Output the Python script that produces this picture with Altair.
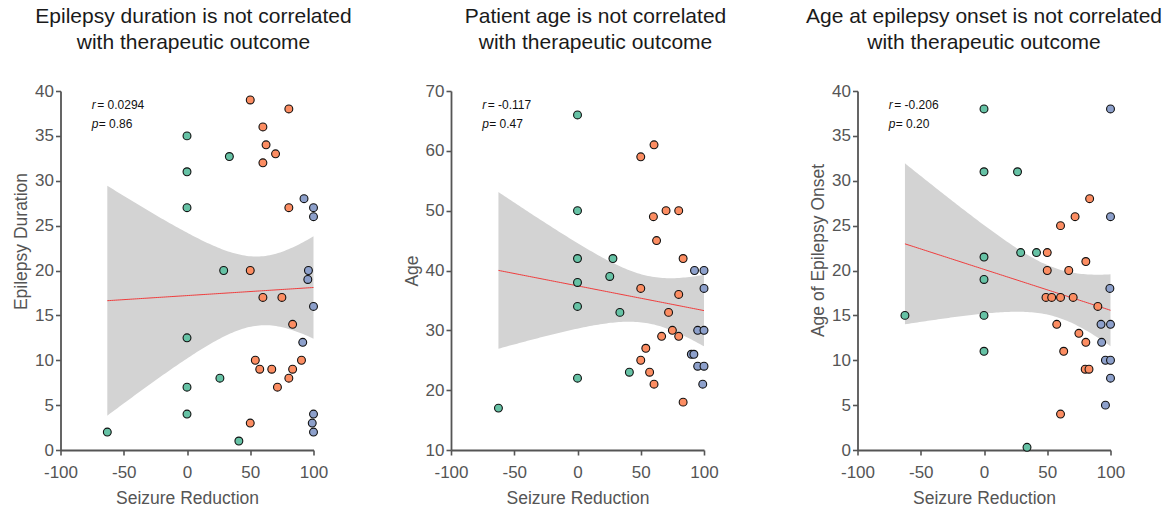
import altair as alt
import pandas as pd
import numpy as np

FONT = "Liberation Sans"
COLORS = ["#66c2a5", "#fc8d62", "#8da0cb"]

# ---------------- Panel 1: Epilepsy duration ----------------
p1_green_x = [-63, 0, 0, 0, 0, 0, 0, 33.5, 29, 26, 41]
p1_green_y = [2, 35, 31, 27, 12.5, 7, 4, 32.7, 20, 8, 1]
p1_orange_x = [50, 80.5, 60, 62.5, 70, 60, 80.5, 50, 60, 75, 83.5, 54, 57.5, 67, 83.5, 90.5, 80.5, 71.5, 50]
p1_orange_y = [39, 38, 36, 34, 33, 32, 27, 20, 17, 17, 14, 10, 9, 9, 9, 10, 8, 7, 3]
p1_blue_x = [92.5, 100, 100, 96, 95.5, 100, 91.5, 100, 99, 100]
p1_blue_y = [28, 27, 26, 20, 19, 16, 12, 4, 3, 2]

# ---------------- Panel 2: Age ----------------
p2_green_x = [-62.5, 0, 0, 0, 0, 0, 0, 28, 25.5, 33.5, 41]
p2_green_y = [17, 66, 50, 42, 38, 34, 22, 42, 39, 33, 23]
p2_orange_x = [60.5, 50, 70, 80, 60, 62.5, 83.5, 50, 80, 72, 75, 66.5, 80, 54, 50, 57, 60.5, 83.5]
p2_orange_y = [61, 59, 50, 50, 49, 45, 42, 37, 36, 33, 30, 29, 29, 27, 25, 23, 21, 18]
p2_blue_x = [92.5, 100, 100, 95, 100, 90, 92, 95, 100, 99]
p2_blue_y = [40, 40, 37, 30, 30, 26, 26, 24, 24, 21]

# ---------------- Panel 3: Age at onset ----------------
p3_green_x = [-62.5, 0, 0, 0, 0, 0, 0, 26.5, 29, 41.5, 34]
p3_green_y = [15, 38, 31, 21.5, 19, 15, 11, 31, 22, 22, 0.3]
p3_orange_x = [83.5, 72, 60.5, 50, 80.5, 50, 67, 49, 53.5, 60.5, 70.5, 90, 57.5, 75, 80.5, 63, 80, 83, 60.5]
p3_orange_y = [28, 26, 25, 22, 21, 20, 20, 17, 17, 17, 17, 16, 14, 13, 12, 11, 9, 9, 4]
p3_blue_x = [100, 100, 99.5, 92.5, 100, 93, 96, 100, 100, 96]
p3_blue_y = [38, 26, 18, 14, 14, 12, 10, 10, 8, 5]

titles = [
    ["Epilepsy duration is not correlated", "with therapeutic outcome"],
    ["Patient age is not correlated", "with therapeutic outcome"],
    ["Age at epilepsy onset is not correlated", "with therapeutic outcome"],
]
y_titles = ["Epilepsy Duration", "Age", "Age of Epilepsy Onset"]
y_domains = [[0, 40], [10, 70], [0, 40]]
y_ticks = [list(range(0, 41, 5)), list(range(10, 71, 10)), list(range(0, 41, 5))]
r_texts = ["= 0.0294", "= -0.117", "= -0.206"]
p_texts = ["= 0.86", "= 0.47", "= 0.20"]
panel_w = [253, 269, 253]   # panel 2 carries extra room so the gap to panel 3 is wider
plot_w = 253
plot_h = 359
title_dx = [6.5, 10, 0]
ytitle_y = [150, 179.5, 159]
T975 = {38: 2.024, 37: 2.026}


def make_df(gx, gy, ox, oy, bx, by):
    return pd.DataFrame({
        "x": gx + ox + bx,
        "y": gy + oy + by,
        "g": ["a"] * len(gx) + ["b"] * len(ox) + ["c"] * len(bx),
    })


def fit_band(df):
    x = df["x"].to_numpy(float)
    y = df["y"].to_numpy(float)
    n = len(x)
    b, a = np.polyfit(x, y, 1)
    res = y - (a + b * x)
    s = np.sqrt(np.sum(res ** 2) / (n - 2))
    xm = x.mean()
    sxx = np.sum((x - xm) ** 2)
    xs = np.linspace(x.min(), x.max(), 100)
    fit = a + b * xs
    se = s * np.sqrt(1.0 / n + (xs - xm) ** 2 / sxx)
    t = T975.get(n - 2, 2.02)
    return pd.DataFrame({"x": xs, "fit": fit, "lo": fit - t * se, "hi": fit + t * se})


HYPHEN = "datum.value < 0 ? '-' + format(abs(datum.value), 'd') : datum.label"


def panel(i, df):
    band_df = fit_band(df)
    xs = alt.Scale(domain=[-100, 100], nice=False, range=[0, plot_w])
    ys = alt.Scale(domain=y_domains[i], nice=False)
    xax = alt.Axis(values=[-100, -50, 0, 50, 100], title="Seizure Reduction", labelExpr=HYPHEN,
                   labelFlush=False, labelPadding=9.5, titlePadding=9)
    yax = alt.Axis(values=y_ticks[i], title=y_titles[i], labelFlush=False, titleY=ytitle_y[i],
                   labelPadding=2, titlePadding=4)
    band = alt.Chart(band_df).mark_area(color="#d3d3d3", opacity=1).encode(
        x=alt.X("x:Q", scale=xs, axis=xax),
        y=alt.Y("lo:Q", scale=ys, axis=yax),
        y2="hi:Q",
    )
    line = alt.Chart(band_df).mark_line(color="#f03c3c", strokeWidth=1).encode(
        x=alt.X("x:Q", scale=xs), y=alt.Y("fit:Q", scale=ys)
    )
    pts = alt.Chart(df).mark_circle(size=62, stroke="#111111", strokeWidth=1.1, opacity=1).encode(
        x=alt.X("x:Q", scale=xs),
        y=alt.Y("y:Q", scale=ys),
        color=alt.Color("g:N", scale=alt.Scale(domain=["a", "b", "c"], range=COLORS), legend=None),
    )
    lo, hi = y_domains[i]
    span = hi - lo
    y1 = hi - span * 0.0395
    y2 = hi - span * 0.091
    xa = -75.3
    ann = pd.DataFrame({"x": [xa, xa], "y": [y1, y2], "sym": ["r", "p"], "txt": [r_texts[i], p_texts[i]]})
    sym = alt.Chart(ann).mark_text(font=FONT, fontSize=12, fontStyle="italic", align="left",
                                   baseline="middle", color="#111111").encode(
        x=alt.X("x:Q", scale=xs), y=alt.Y("y:Q", scale=ys), text="sym:N")
    rest_r = alt.Chart(ann.iloc[[0]]).mark_text(font=FONT, fontSize=12, align="left", dx=5.5,
                                               baseline="middle", color="#111111").encode(
        x=alt.X("x:Q", scale=xs), y=alt.Y("y:Q", scale=ys), text="txt:N")
    rest_p = alt.Chart(ann.iloc[[1]]).mark_text(font=FONT, fontSize=12, align="left", dx=7,
                                               baseline="middle", color="#111111").encode(
        x=alt.X("x:Q", scale=xs), y=alt.Y("y:Q", scale=ys), text="txt:N")
    return alt.layer(band, line, pts, sym, rest_r, rest_p).properties(
        width=panel_w[i], height=plot_h,
        title=alt.TitleParams(text=titles[i], fontSize=21, font=FONT, fontWeight="normal",
                              color="#1a1a1a", anchor="middle", frame="group", dx=title_dx[i],
                              offset=29, lineHeight=26.5),
    )


d1 = make_df(p1_green_x, p1_green_y, p1_orange_x, p1_orange_y, p1_blue_x, p1_blue_y)
d2 = make_df(p2_green_x, p2_green_y, p2_orange_x, p2_orange_y, p2_blue_x, p2_blue_y)
d3 = make_df(p3_green_x, p3_green_y, p3_orange_x, p3_orange_y, p3_blue_x, p3_blue_y)

chart = alt.hconcat(panel(0, d1), panel(1, d2), panel(2, d3), spacing=137.5, bounds="flush").properties(
    padding={"left": 12.5, "top": 5, "right": 5, "bottom": 5}
).configure(
    background="white"
).configure_view(stroke=None).configure_axis(
    grid=False,
    labelFont=FONT, titleFont=FONT,
    labelFontSize=17, titleFontSize=17.5, titleFontWeight="normal",
    labelColor="#555555", titleColor="#555555",
    domainColor="#555555", tickColor="#555555",
    domainWidth=1.8, tickWidth=1.6, tickSize=5,
)

chart.save("out.html", embed_options={"renderer": "svg", "actions": False})
